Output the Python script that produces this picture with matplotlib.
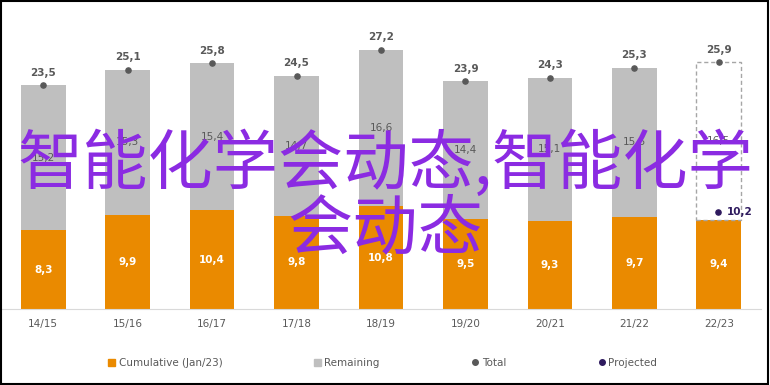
import numpy as np
import matplotlib.pyplot as plt
from matplotlib.lines import Line2D
from matplotlib.patches import Patch, Rectangle

seasons = ['14/15', '15/16', '16/17', '17/18', '18/19', '19/20', '20/21', '21/22', '22/23']
cumulative = [8.3, 9.9, 10.4, 9.8, 10.8, 9.5, 9.3, 9.7, 9.4]
total = [23.5, 25.1, 25.8, 24.5, 27.2, 23.9, 24.3, 25.3, 25.9]
remaining_labels = ['15,2', '15,3', '15,4', '14,7', '16,6', '14,4', '15,1', '15,5', '16,5']
projected = 10.2

orange = '#EA8A00'
grey = '#BFBFBF'
dark = '#595959'
purple = '#2E1A5E'

fig = plt.figure(figsize=(7.7, 3.85), dpi=100)
ax = fig.add_axes([1 / 770, 0.197, 760 / 770, 0.74])

x = np.arange(len(seasons))
remaining = np.array(total) - np.array(cumulative)
w = 0.53

ax.bar(x, cumulative, width=w, color=orange, zorder=2)
# last season is projected: outline only
ax.bar(x[:-1], remaining[:-1], bottom=cumulative[:-1], width=w, color=grey, zorder=2)
ax.bar(x[-1], remaining[-1], bottom=cumulative[-1], width=w, facecolor='none',
       edgecolor='#A6A6A6', linestyle=(0, (3, 2)), linewidth=1, zorder=2)

ax.scatter(x, total, s=14, color=dark, zorder=3)
ax.scatter(x[-1] - 0.01, projected, s=14, color=purple, zorder=3)

for i in range(len(seasons)):
    ax.text(x[i], total[i] + 0.8, f'{total[i]:.1f}'.replace('.', ','), ha='center', va='bottom',
            fontsize=7.5, color=dark, fontweight='bold')
    ax.text(x[i], cumulative[i] / 2, f'{cumulative[i]:.1f}'.replace('.', ','), ha='center',
            va='center', fontsize=7.5, color='white', fontweight='bold')
    ax.text(x[i], cumulative[i] + remaining[i] / 2, remaining_labels[i], ha='center',
            va='center', fontsize=7.5, color=dark)
ax.text(x[-1] + 0.1, projected, '10,2', ha='left', va='center', fontsize=7.5,
        color=purple, fontweight='bold')

ax.set_xlim(-0.5, 8.5)
ax.set_ylim(0, 29.9)
ax.set_xticks(x)
ax.set_xticklabels(seasons, fontsize=7.5, color=dark)
ax.tick_params(axis='x', length=0, pad=7)
ax.set_yticks([])
for s in ['top', 'left', 'right']:
    ax.spines[s].set_visible(False)
ax.spines['bottom'].set_color('#D9D9D9')

handles = [
    Patch(color=orange, label='Cumulative (Jan/23)'),
    Patch(color=grey, label='Remaining'),
    Line2D([], [], marker='o', linestyle='none', color=dark, markersize=4, label='Total'),
    Line2D([], [], marker='o', linestyle='none', color=purple, markersize=4, label='Projected'),
]
leg = fig.legend(handles=handles, loc='center', bbox_to_anchor=(0.497, 0.057), ncol=4,
                 frameon=False, fontsize=7.5, handlelength=0.7, handleheight=0.7,
                 handletextpad=0.3, columnspacing=8.8)
for t in leg.get_texts():
    t.set_color(dark)

# watermark
wm = dict(family=['Noto Sans CJK SC', 'DejaVu Sans'], fontsize=47, color='#8B2BE2',
          ha='center', va='center', zorder=10, fontweight='medium')
fig.text(0.5, 1 - 165 / 385, '智能化学会动态,智能化学', **wm)
fig.text(0.5, 1 - 230 / 385, '会动态', **wm)

# black frame around the picture
fig.patches.append(Rectangle((0.001, 0.002), 0.997, 0.996, transform=fig.transFigure,
                             fill=False, edgecolor='black', linewidth=1.5))

fig.savefig('out.png', dpi=100)
